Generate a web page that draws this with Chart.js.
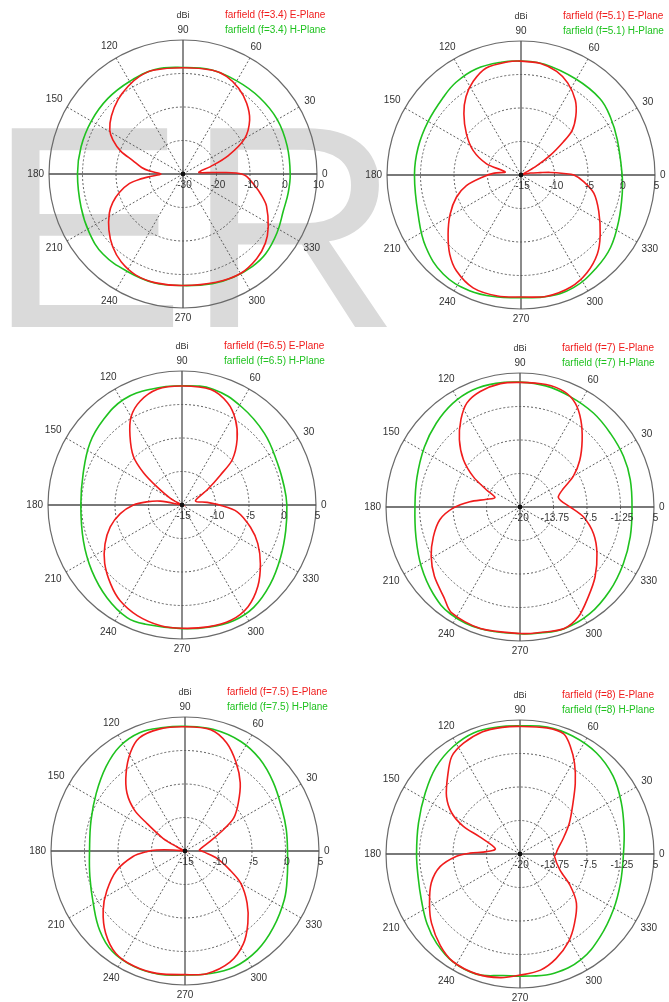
<!DOCTYPE html>
<html>
<head>
<meta charset="utf-8">
<title>Farfield directivity, E-plane and H-plane</title>
<script src="https://cdn.jsdelivr.net/npm/chart.js@4.4.1/dist/chart.umd.min.js"></script>
<style>
  html, body { margin: 0; padding: 0; background: #fff; overflow: hidden; }
  #page { position: relative; width: 669px; height: 1002px; overflow: hidden; background: #fff; }
  #page canvas { position: absolute; }
</style>
</head>
<body>
<div id="page">
  <canvas id="mark" width="669" height="1002" style="left:0;top:0"></canvas>
</div>
<script>
// ---- frequencies (GHz) ----
const freqs = ['3.4', '5.1', '6.5', '7', '7.5', '8'];

// ---- radial tick values (dBi) per plot ----
const ticks1 = [-30, -20, -10, 0, 10];
const ticks2 = [-15, -10, -5, 0, 5];
const ticks3 = [-15, -10, -5, 0, 5];
const ticks4 = [-20, -13.75, -7.5, -1.25, 5];
const ticks5 = [-15, -10, -5, 0, 5];
const ticks6 = [-20, -13.75, -7.5, -1.25, 5];

// ---- f = 3.4 ----
const e1Deg = [0,1,2,3,6,15,22,30,39,48,57,66,74,90,106,114,122,131,141,149,154,160,165,171,175,180,184,187,190,196,202,208,217,226,235,245,256,270,287,300,311,320,328,339,345,351,358];
const e1Dbi = [-12.5,-14.1,-17.1,-21.1,-25.3,-21.5,-15.5,-8.7,-4.4,-1.6,0.5,1.9,2.2,1.7,2.2,1.9,0.9,-0.5,-2.5,-4.5,-6.7,-10.3,-14.5,-17.5,-20,-23.4,-20.5,-16.8,-13.8,-10.3,-7.4,-5.1,-2.3,0.2,2.1,3.3,3.5,3.3,3.8,4.3,3.5,2.1,0,-3.3,-5.8,-8.4,-11.1];
const h1Deg = [0,15,30,45,60,75,90,105,120,135,150,165,180,198,212,225,240,255,270,285,296,307,316,328,340,350];
const h1Dbi = [2.0,2.2,2.5,2.3,2.1,2.2,1.8,2.3,1.9,1.8,1.6,1.5,1.5,2.0,3.0,3.8,3.5,3.6,3.3,3.9,4.3,4.5,4.3,3.1,1.9,1.9];

// ---- f = 5.1 ----
const e2Deg = [0,2,5,7,12,20,25,30,34,38,41,47,54,63,71,80,90,97,108,117,125,133,143,153,162,169,176,183,191,199,209,219,228,236,247,259,270,282,294,304,314,323,335,346,354];
const e2Dbi = [-7.1,-8.6,-10.6,-12.1,-13.6,-15,-14.8,-12.5,-9.7,-7.0,-4.9,-3.0,-1.2,0.4,1.35,1.9,2.0,2.0,1.8,0.7,-0.7,-2.5,-4.8,-7.0,-9.6,-12.6,-11.0,-9.3,-6.7,-4.8,-2.9,-1.0,0.9,2.25,3.3,3.4,3.2,3.5,3.3,2.6,1.4,-0.2,-2.2,-3.8,-5.6];
const h2Deg = [0,20,33,44,60,78,90,100,113,125,135,150,165,180,201,217,232,246,259,270,282,295,309,321,335,350];
const h2Dbi = [0.1,0.3,0.9,1.4,1.5,1.9,2.0,2.1,2.2,1.9,1.4,1.0,0.9,0.9,1.45,2.8,3.8,3.9,3.55,3.3,3.55,3.55,2.85,2.2,1.1,0.35];

// ---- f = 6.5 ----
const e3Deg = [0,6,17,31,38,42,50,58,66,76,90,102,112,120,127,135,140,144,150,156,166,170,175,180,188,197,207,217,228,237,248,260,270,282,293,303,313,323,333,342,353];
const e3Dbi = [-9.4,-11.2,-12.9,-10.6,-7.7,-4.9,-2.2,0.05,1.7,2.76,2.75,2.65,1.7,0.2,-2.1,-4.75,-7.5,-10.35,-13,-15,-15,-11.7,-9.7,-7.75,-5.7,-3.8,-2.1,-0.55,0.9,2.0,2.8,3.3,3.4,3.6,3.7,3.1,1.6,-0.35,-2.3,-4.25,-6.7];
const h3Deg = [0,10,24,41,59,75,90,105,119,133,146,162,180,200,216,231,244,253,270,282,294,305,318,332,346];
const h3Dbi = [0.65,0.5,0.56,1.3,2.15,2.9,2.8,2.9,3.0,2.3,1.57,0.5,0.1,0.66,1.65,2.8,3.7,3.6,3.45,3.65,3.9,3.65,2.7,1.66,0.95];

// ---- f = 7 ----
const e4Deg = [0,9,15,23,30,38,47,55,62,69,78,90,99,109,117,124,132,140,147,153,159,167,174,181,189,199,209,219,230,237,252,270,278,290,298,307,317,329,340,351];
const e4Dbi = [-10.65,-12.3,-12.6,-11.2,-8.5,-5.85,-3.0,-0.2,1.95,3.05,3.35,3.25,3.3,2.8,1.8,-0.3,-3.1,-6.2,-9.6,-13,-15,-13.6,-10.6,-7.5,-4.85,-2.9,-1.05,0.55,2.05,3.5,3.85,3.6,3.7,4.1,3.2,1.1,-0.85,-3.25,-5.4,-8.0];
const h4Deg = [0,14,26,39,52,66,78,90,101,112,123,135,148,164,180,196,211,225,237,252,270,279,290,303,317,331,345];
const h4Dbi = [0.9,1.2,1.5,1.75,2.25,2.65,3.1,3.3,3.5,3.55,3.05,2.1,1.05,0.0,-0.4,0.2,1.5,2.9,3.8,3.9,3.65,3.8,4.15,3.8,2.9,2.0,1.3];

// ---- f = 7.5 ----
const e5Deg = [0,4,21,29,34,42,51,60,69,78,90,102,112,119,127,135,141,144,150,153,157,170,175,178,181,186,196,207,216,226,236,246,257,270,280,292,302,311,320,330,337,347,356];
const e5Dbi = [-12.5,-12.85,-11,-8.45,-6.25,-4.3,-1.9,0.25,2.3,3.5,3.55,3.6,3.2,1.8,-0.4,-2.75,-5.3,-7.9,-11.2,-13.6,-15,-15,-13.25,-10.75,-9.25,-7.2,-4.35,-1.9,0.1,2.05,3.45,3.8,3.75,3.45,3.6,2.9,1.4,-0.7,-2.9,-5.4,-7.7,-10.1,-12];
const h5Deg = [0,12,23,38,51,63,77,90,100,111,122,133,147,162,180,195,210,223,234,246,258,270,280,293,306,319,334,346];
const h5Dbi = [0.3,0.45,0.75,1.7,2.7,3.35,3.64,3.6,3.7,3.9,3.4,2.25,0.8,-0.25,-0.75,-0.3,0.8,2.4,3.5,3.85,3.8,3.5,3.65,3.8,3.33,2.45,1.5,0.73];

// ---- f = 8 ----
const e6Deg = [0,6,20,32,44,52,59,65,70,78,90,98,107,117,125,133,142,149,154,157,168,176,179,182,189,198,209,218,229,238,250,261,270,280,289,299,308,319,328,338,356];
const e6Dbi = [-13.3,-13,-11.4,-9.15,-6.25,-3.25,-0.25,2.2,3.85,4.05,3.8,3.85,3.85,3.2,2.2,-0.2,-2.6,-5.15,-8.25,-11.85,-15.3,-13.75,-10.65,-8.15,-4.9,-2.6,-0.7,0.95,2.65,3.65,3.8,3.35,2.6,2.0,0.65,-1.3,-3.5,-6.05,-9,-11.95,-13.55];
const h6Deg = [0,13,27,40,53,66,78,90,100,111,122,134,147,163,180,193,205,217,227,238,250,262,275,286,300,314,329,344];
const h6Dbi = [-0.7,-0.07,1.2,2.65,3.65,4.1,4.2,3.9,4.05,4.2,3.6,2.55,1.05,-0.2,-0.7,-0.5,0.3,1.7,2.8,3.7,3.85,2.9,2.85,3.15,2.75,1.5,0.3,-0.5];

// ---- styling ----
const RED = '#f01c1c';
const GREEN = '#1fc21f';
const FONT = '"Liberation Sans", Arial, sans-serif';

// Radar index i sits i degrees clockwise from east (startAngle 90),
// so a counter-clockwise angle a maps to index (360 - a) % 360.
const angleLabels = Array.from({ length: 360 }, (_, i) => (360 - i) % 360);
function radarSeries(deg, dbi) {
  const out = new Array(360).fill(null);
  deg.forEach((a, k) => { out[(360 - a) % 360] = dbi[k]; });
  return out;
}

const plots = [
  { f: freqs[0], ticks: ticks1, e: [e1Deg, e1Dbi], h: [h1Deg, h1Dbi] },
  { f: freqs[1], ticks: ticks2, e: [e2Deg, e2Dbi], h: [h2Deg, h2Dbi] },
  { f: freqs[2], ticks: ticks3, e: [e3Deg, e3Dbi], h: [h3Deg, h3Dbi] },
  { f: freqs[3], ticks: ticks4, e: [e4Deg, e4Dbi], h: [h4Deg, h4Dbi] },
  { f: freqs[4], ticks: ticks5, e: [e5Deg, e5Dbi], h: [h5Deg, h5Dbi] },
  { f: freqs[5], ticks: ticks6, e: [e6Deg, e6Dbi], h: [h6Deg, h6Dbi] }
];

// page placement of each polar plot (centre of the plot)
const centres = [[183, 174], [521, 175], [182, 505], [520, 507], [185, 851], [520, 854]];
const CW = 340, CH = 330, PAD_L = 36, PAD_T = 36;

// light background lettering
(function () {
  const c = document.getElementById('mark').getContext('2d');
  c.fillStyle = '#dadada';
  c.font = '289px ' + FONT;
  c.textBaseline = 'alphabetic';
  c.translate(10, 0);
  c.scale(1.03, 1);
  c.fillText('ER', -22, 327);
})();

// angle labels, dB ticks along 0°, unit, legend text and centre dot
const polarDecor = {
  id: 'polarDecor',
  afterDraw(chart, args, opts) {
    const s = chart.scales.r;
    const ctx = chart.ctx;
    const cx = s.xCenter, cy = s.yCenter, R = s.drawingArea;
    ctx.save();
    ctx.fillStyle = '#111';
    ctx.beginPath();
    ctx.arc(cx, cy, 2.4, 0, Math.PI * 2);
    ctx.fill();

    ctx.fillStyle = '#333';
    ctx.font = '10px ' + FONT;
    ctx.textAlign = 'center';
    ctx.textBaseline = 'middle';
    for (let a = 0; a < 360; a += 30) {
      const txt = String(a);
      const w = ctx.measureText(txt).width;
      const rad = a * Math.PI / 180;
      const d = R + 5 + (w / 2) * Math.abs(Math.cos(rad)) + 5 * Math.abs(Math.sin(rad));
      const p = s.getPointPosition((360 - a) % 360, d);
      ctx.fillText(txt, p.x, p.y);
    }
    opts.ticks.forEach(v => {
      ctx.fillText(String(v), cx + s.getDistanceFromCenterForValue(v) + 1.5, cy + 11);
    });
    ctx.font = '9px ' + FONT;
    ctx.fillText('dBi', cx, cy - 158);

    ctx.font = '10px ' + FONT;
    ctx.textAlign = 'left';
    chart.data.datasets.forEach((ds, i) => {
      ctx.fillStyle = ds.borderColor;
      ctx.fillText(ds.label, cx + 42, cy - 159 + i * 15);
    });
    ctx.restore();
  }
};

const page = document.getElementById('page');
plots.forEach((p, k) => {
  const [x, y] = centres[k];
  const cv = document.createElement('canvas');
  cv.width = CW; cv.height = CH;
  cv.style.left = (x - PAD_L - 134) + 'px';
  cv.style.top = (y - PAD_T - 134) + 'px';
  page.appendChild(cv);
  const last = p.ticks.length - 1;
  new Chart(cv, {
    type: 'radar',
    data: {
      labels: angleLabels,
      datasets: [
        { label: `farfield (f=${p.f}) E-Plane`, data: radarSeries(p.e[0], p.e[1]),
          borderColor: RED, borderWidth: 1.6, pointRadius: 0, fill: false, spanGaps: true, tension: 0.3 },
        { label: `farfield (f=${p.f}) H-Plane`, data: radarSeries(p.h[0], p.h[1]),
          borderColor: GREEN, borderWidth: 1.6, pointRadius: 0, fill: false, spanGaps: true, tension: 0.4 }
      ]
    },
    options: {
      responsive: false,
      animation: false,
      events: [],
      layout: { padding: { left: PAD_L, right: CW - PAD_L - 268, top: PAD_T, bottom: CH - PAD_T - 268 } },
      plugins: { legend: { display: false }, tooltip: { enabled: false }, polarDecor: { ticks: p.ticks } },
      scales: {
        r: {
          min: p.ticks[0],
          max: p.ticks[last],
          startAngle: 90,
          afterBuildTicks: sc => { sc.ticks = p.ticks.map(v => ({ value: v })); },
          ticks: { display: false },
          pointLabels: { display: false },
          grid: {
            circular: true,
            color: c => c.index === last ? '#6a6a6a' : '#5e5e5e',
            lineWidth: c => c.index === 0 ? 0 : (c.index === last ? 1.2 : 1)
          },
          border: { dash: c => c.index === last ? [] : [2, 2] },
          angleLines: {
            color: c => c.index % 90 === 0 ? '#4d4d4d' : '#5e5e5e',
            lineWidth: c => c.index % 30 !== 0 ? 0 : (c.index % 90 === 0 ? 1.3 : 1),
            borderDash: c => c.index % 90 === 0 ? [] : [2, 2]
          }
        }
      }
    },
    plugins: [polarDecor]
  });
});
</script>
</body>
</html>
